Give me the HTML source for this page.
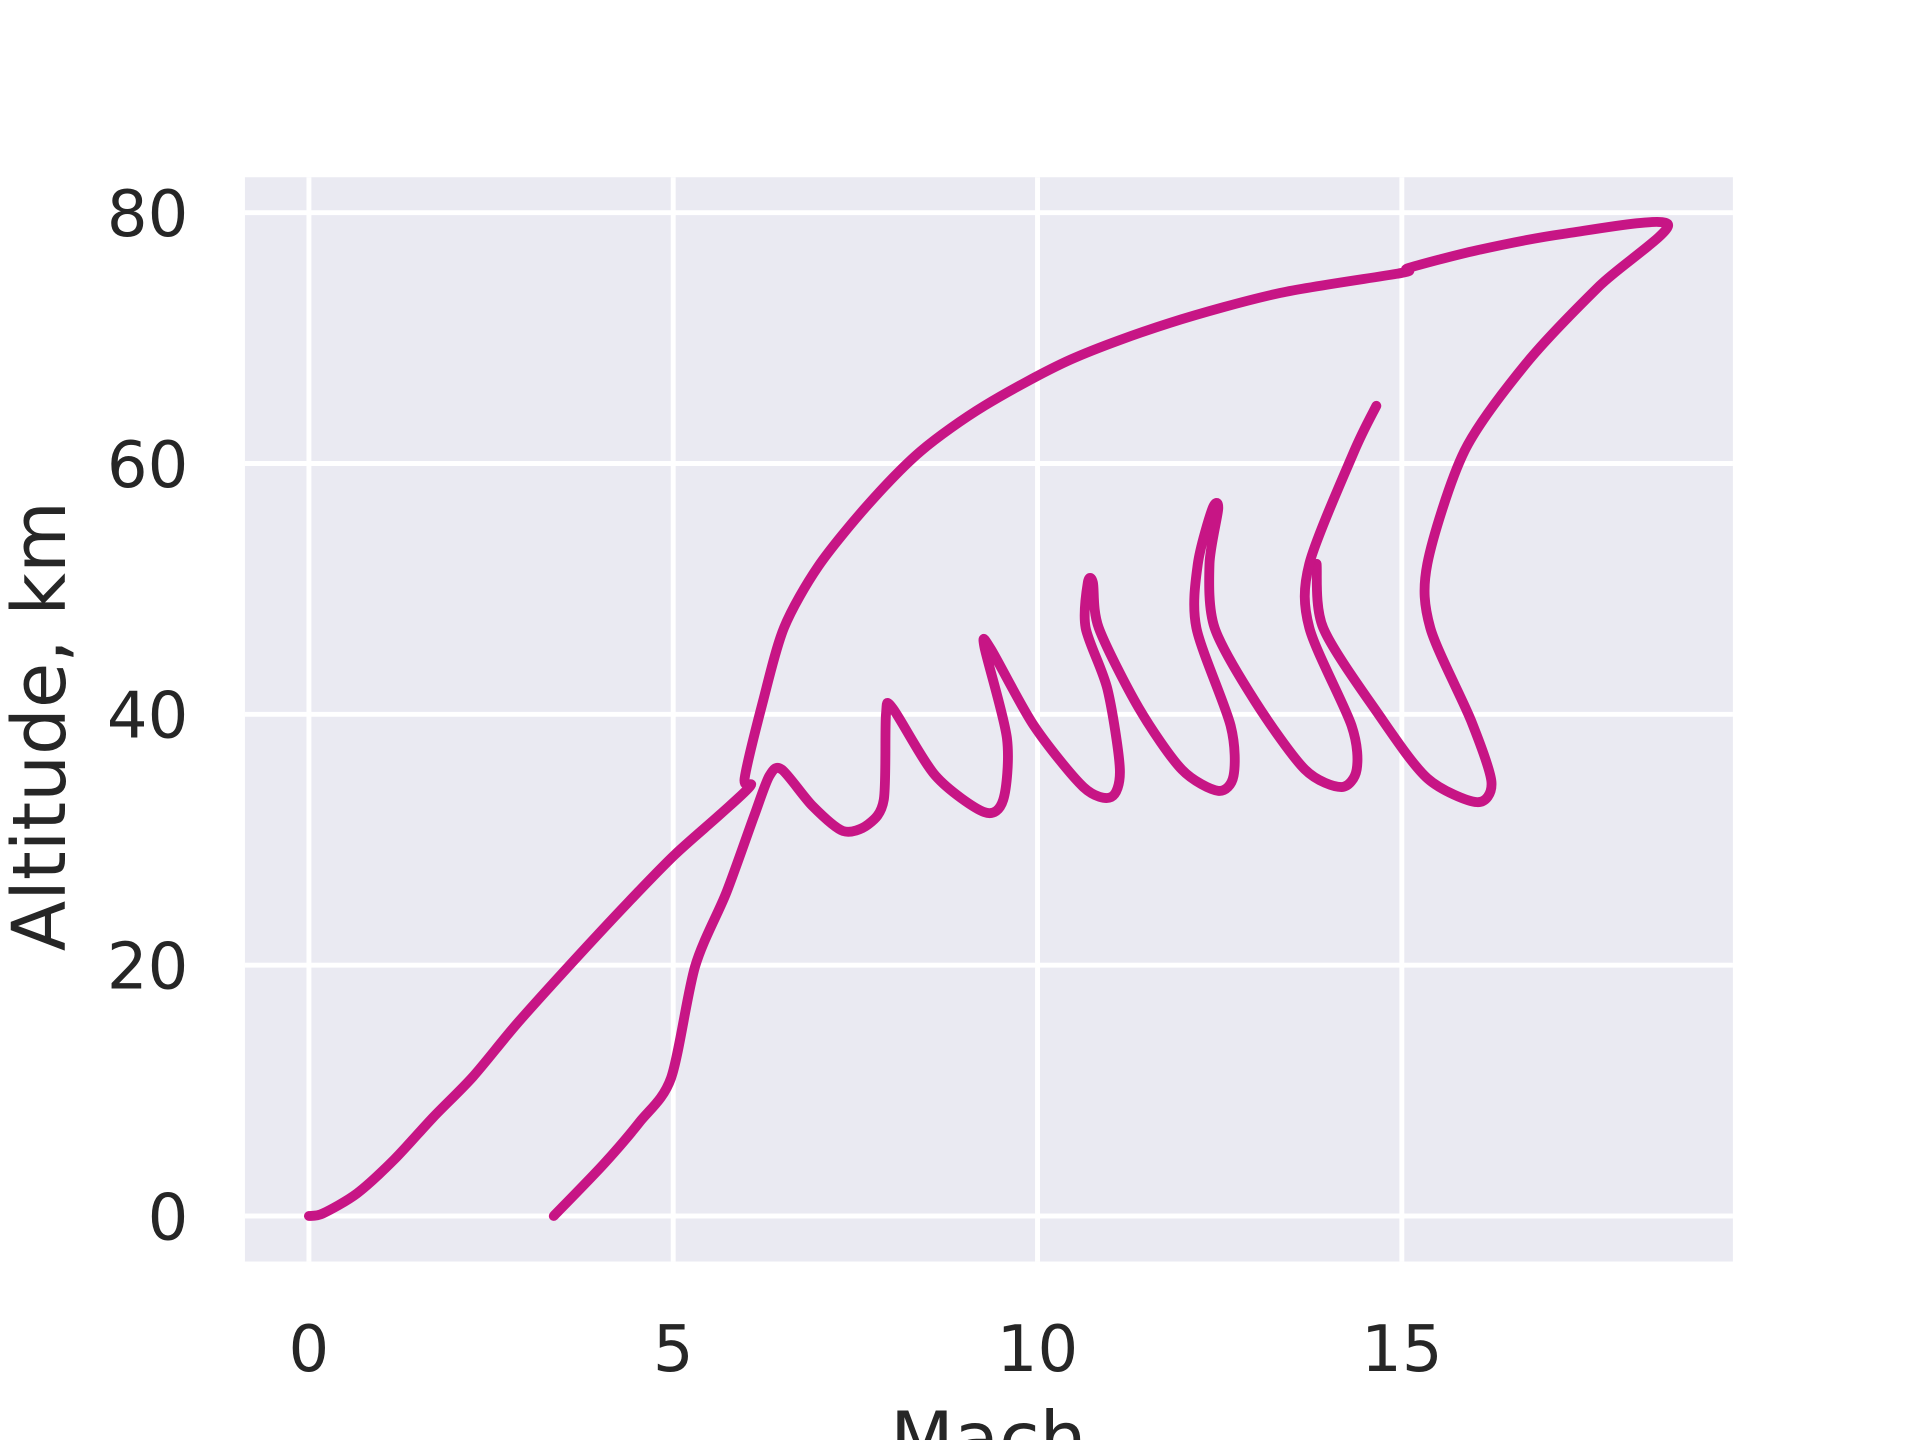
<!DOCTYPE html>
<html><head><meta charset="utf-8"><style>html,body{margin:0;padding:0;background:#fff;}svg{display:block}</style></head>
<body>
<svg id="chart" width="1920" height="1440" viewBox="0 0 1560 1170" xmlns="http://www.w3.org/2000/svg" font-family="'DejaVu Sans','Liberation Sans',sans-serif">
<rect x="199" y="144" width="1209" height="881" fill="#eaeaf2"/>
<g id="grid"></g>
<g id="ticks" fill="#262626" font-size="52"></g>
<g id="series" fill="none" stroke="#c71585" stroke-width="8" stroke-linejoin="round" stroke-linecap="round"></g>
<text transform="translate(53,590) rotate(-90)" text-anchor="middle" font-size="60" fill="#262626">Altitude, km</text>
<text x="803" y="1190" text-anchor="middle" font-size="60" fill="#262626">Mach</text>
</svg>
<script>
const xTicks=[0,5,10,15];
const yTicks=[0,20,40,60,80];
const ascentMach=[0,0.19,0.66,1.17,1.71,2.25,2.85,3.61,4.38,5.02,5.64,6.06,5.98,6.23,6.52,6.99,7.67,8.40,9.27,10.46,11.81,13.33,15.0,15.10,16.03,17.21,18.65,17.72,16.71,15.86,15.35,15.39,15.95,16.23,16.03,15.35,14.68,13.92,13.83];
const ascentAlt=[0,0.2,1.8,4.5,7.9,11.1,15.3,20.2,25.0,28.8,32.0,34.3,34.9,41.0,46.9,51.8,56.7,61.0,64.6,68.3,71.2,73.6,75.2,75.6,77.0,78.3,79.1,74.2,68.0,61.0,52.0,46.9,39.5,34.6,33.0,34.9,40.0,46.9,52.0];
const skipMach=[3.36,4.04,4.54,4.97,5.30,5.73,6.11,6.32,6.49,6.91,7.33,7.67,7.89,7.92,8.01,8.60,9.27,9.53,9.58,9.27,9.36,9.95,10.63,11.01,11.13,10.96,10.66,10.69,10.76,10.84,11.39,11.98,12.48,12.69,12.65,12.18,12.20,12.40,12.48,12.36,12.43,12.99,13.67,14.17,14.38,14.31,13.73,13.73,14.34,14.65];
const skipAlt=[0,4.1,7.5,11.0,19.9,25.8,31.9,35.1,35.6,32.7,30.7,31.2,33.2,40.0,40.5,35.1,32.2,33.2,38.1,45.4,45.2,39.1,34.2,33.4,35.6,42.0,46.9,50.5,50.5,46.9,40.5,35.6,33.9,35.1,39.1,46.9,52.0,56.4,56.4,52.0,46.9,41.0,35.6,34.2,35.6,39.1,46.9,52.0,60.9,64.6];
const NS='http://www.w3.org/2000/svg';
function sx(v){return 251+v*59.2;}
function sy(v){return 988-v*10.19;}
const grid=document.getElementById('grid'),ticks=document.getElementById('ticks'),series=document.getElementById('series');
xTicks.forEach(t=>{
 const l=document.createElementNS(NS,'line');
 
 
 l.setAttribute('x1',sx(t));l.setAttribute('x2',sx(t));l.setAttribute('y1',144);l.setAttribute('y2',1025);
 l.setAttribute('stroke','#fff');l.setAttribute('stroke-width',4);grid.appendChild(l);
 const tx=document.createElementNS(NS,'text');
 
 
 tx.setAttribute('x',sx(t));tx.setAttribute('y',1114);tx.setAttribute('text-anchor','middle');tx.textContent=t;ticks.appendChild(tx);
});
yTicks.forEach(t=>{
 const l=document.createElementNS(NS,'line');
 
 
 l.setAttribute('x1',199);l.setAttribute('x2',1408);l.setAttribute('y1',sy(t));l.setAttribute('y2',sy(t));
 l.setAttribute('stroke','#fff');l.setAttribute('stroke-width',4);grid.appendChild(l);
 const tx=document.createElementNS(NS,'text');
 
 
 tx.setAttribute('x',153);tx.setAttribute('y',sy(t)+19);tx.setAttribute('text-anchor','end');tx.textContent=t;ticks.appendChild(tx);
});
function draw(xs,ys,name){
 const pts=xs.map((x,i)=>[sx(x),sy(ys[i])]);
 let d='M'+pts[0][0]+','+pts[0][1];
 const k=0.14;
 for(let i=0;i<pts.length-1;i++){
  const p0=pts[Math.max(i-1,0)],p1=pts[i],p2=pts[i+1],p3=pts[Math.min(i+2,pts.length-1)];
  const c1=[p1[0]+(p2[0]-p0[0])*k,p1[1]+(p2[1]-p0[1])*k];
  const c2=[p2[0]-(p3[0]-p1[0])*k,p2[1]-(p3[1]-p1[1])*k];
  d+=' C'+c1[0]+','+c1[1]+' '+c2[0]+','+c2[1]+' '+p2[0]+','+p2[1];
 }
 const p=document.createElementNS(NS,'path');
 
 
 p.setAttribute('d',d);
 series.appendChild(p);
}
draw(ascentMach,ascentAlt,'ascent-trajectory-line');
draw(skipMach,skipAlt,'skip-trajectory-line');
</script>
</body></html>
